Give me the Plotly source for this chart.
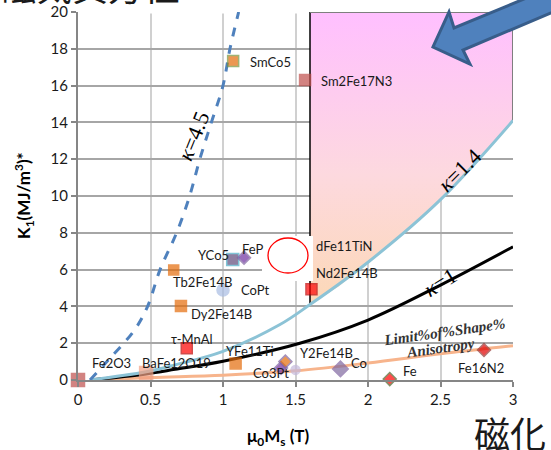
import plotly.graph_objects as go

# ---------------- data ----------------
mat_names = ["Fe2O3", "BaFe12O19", "τ-MnAl", "Dy2Fe14B", "Tb2Fe14B", "CoPt", "YCo5", "FePt",
             "Nd2Fe14B", "SmCo5", "Sm2Fe17N3", "YFe11Ti", "Co3Pt", "Y2Fe14B", "CoPt3", "Co", "Fe", "Fe16N2"]
mat_ms = [0.0, 0.47, 0.75, 0.71, 0.66, 1.0, 1.067, 1.145,
          1.61, 1.07, 1.566, 1.087, 1.40, 1.43, 1.50, 1.81, 2.15, 2.80]
mat_k1 = [0.0, 0.38, 1.72, 4.02, 5.98, 4.89, 6.55, 6.65,
          4.93, 17.34, 16.3, 0.90, 0.65, 1.0, 0.55, 0.60, 0.05, 1.63]
mat_symbol = ["square", "square", "square", "square", "square", "circle", "square", "diamond",
              "square", "square", "square", "square", "diamond", "diamond", "circle", "diamond", "diamond", "diamond"]
mat_color = ["#c0504d", "#f2a184", "#ff0000", "#e46c0a", "#e46c0a", "#a9bde3", "#5f497a", "#7030a0",
             "#ff0000", "#e46c0a", "#c0504d", "#e46c0a", "#7030a0", "#e46c0a", "#c5b9dc", "#7f6a9f", "#ff0000", "#e00000"]
mat_edge = ["#c0504d", "#f2a184", "#c00000", "#e46c0a", "#e46c0a", "#a9bde3", "#4bacc6", "#8064a2",
            "#c00000", "#77933c", "#c0504d", "#e46c0a", "#8064a2", "#8064a2", "#c5b9dc", "#8064a2", "#4f6228", "#953735"]
mat_size = [13, 13, 11, 11, 10, 12, 12, 10, 11, 11, 11, 11, 10, 10, 9, 12, 10, 10]

# visible label texts (x, y in data units where the text sits)
lbl_text = ["Fe2O3", "BaFe12O19", "τ-MnAl", "Dy2Fe14B", "Tb2Fe14B", "CoPt", "YCo5", "FeP",
            "dFe11TiN", "Nd2Fe14B", "SmCo5", "Sm2Fe17N3", "YFe11Ti", "Co3Pt", "Y2Fe14B", "Co", "Fe", "Fe16N2"]
lbl_x = [0.08, 0.43, 0.63, 0.765, 0.64, 1.11, 1.055, 1.115,
         1.625, 1.63, 1.17, 1.665, 1.01, 1.19, 1.52, 1.87, 2.23, 2.61]
lbl_y = [0.92, 0.92, 2.23, 3.6, 5.3, 4.9, 6.8, 7.12,
         7.3, 5.8, 17.28, 16.25, 1.58, 0.38, 1.47, 0.92, 0.49, 0.65]
lbl_anchor = ["left", "left", "left", "left", "left", "left", "right", "left",
              "left", "left", "left", "left", "left", "left", "left", "left", "left", "left"]

# hardness curves
k45_x = [0.083, 0.21, 0.39, 0.48, 0.566, 0.68, 0.77, 0.84, 0.92, 1.0, 1.048, 1.108]
k45_y = [0.0, 1.09, 2.72, 4.0, 6.0, 8.0, 10.0, 12.0, 14.0, 16.0, 18.0, 20.0]
k14_x = [0.083, 0.47, 0.67, 1.0, 1.39, 1.6, 2.0, 2.5, 3.0]
k14_y = [0.0, 0.45, 0.82, 1.56, 3.0, 4.1, 6.4, 9.8, 14.1]
k1_x = [0.083, 0.47, 0.67, 1.0, 1.53, 2.0, 2.5, 3.0]
k1_y = [0.0, 0.33, 0.58, 1.02, 2.0, 3.26, 5.16, 7.24]
shape_x = [0.083, 0.5, 1.0, 1.5, 2.0, 2.5, 3.0]
shape_y = [0.0, 0.13, 0.26, 0.5, 0.92, 1.42, 1.86]

# target region (above kappa=1.4, Ms > 1.6 T)
region_x = [1.6, 1.6, 1.8, 2.0, 2.25, 2.5, 2.75, 3.0, 3.0, 1.6]
region_y = [20.0, 4.1, 5.1, 6.4, 8.0, 9.8, 11.9, 14.1, 20.0, 20.0]

x_ticks = [0, 0.5, 1, 1.5, 2, 2.5, 3]
x_tick_labels = ["0", "0.5", "1", "1.5", "2", "2.5", "3"]
y_ticks = [0, 2, 4, 6, 8, 10, 12, 14, 16, 18, 20]

# ---------------- layout geometry ----------------
W, H = 551, 450
PL, PR, PT, PB = 78, 513, 12, 380        # plot box on screen
ML, MT = PL, PT
MR, MB = W - PR, H - PB
PW, PH = PR - PL, PB - PT


def px(x, y):
    """screen pixel position -> paper coordinates (decorations only)"""
    return (x - PL) / PW, (PB - y) / PH


fig = go.Figure()

# gradient region
fig.add_trace(go.Scatter(
    x=region_x, y=region_y, mode="lines", line=dict(width=0), fill="toself",
    fillgradient=dict(type="vertical", start=4.0, stop=20.0,
                      colorscale=[[0, "#fcd8b6"], [0.45, "#fdd9df"], [1, "#ffbfff"]]),
    hoverinfo="skip", showlegend=False))
# region borders
fig.add_trace(go.Scatter(x=[1.6, 1.6], y=[20, 4.1], mode="lines",
                         line=dict(color="black", width=1.5), showlegend=False, hoverinfo="skip"))
fig.add_trace(go.Scatter(x=[1.6, 3.0, 3.0], y=[20, 20, 14.1], mode="lines",
                         line=dict(color="#7f7f7f", width=2), showlegend=False, hoverinfo="skip"))

# curves
fig.add_trace(go.Scatter(x=shape_x, y=shape_y, mode="lines", line=dict(color="#f7b48c", width=3, shape="spline"),
                         showlegend=False, hoverinfo="skip"))
fig.add_trace(go.Scatter(x=k1_x, y=k1_y, mode="lines", line=dict(color="black", width=3, shape="spline"),
                         showlegend=False, hoverinfo="skip"))
fig.add_trace(go.Scatter(x=k14_x, y=k14_y, mode="lines", line=dict(color="#8cc3d6", width=3, shape="spline"),
                         showlegend=False, hoverinfo="skip"))
fig.add_trace(go.Scatter(x=k45_x, y=k45_y, mode="lines",
                         line=dict(color="#4f81bd", width=3, dash="dash", shape="spline"),
                         showlegend=False, hoverinfo="skip"))

# materials
fig.add_trace(go.Scatter(
    x=mat_ms, y=mat_k1, mode="markers", text=mat_names, cliponaxis=False,
    marker=dict(symbol=mat_symbol, color=mat_color, size=mat_size,
                line=dict(color=mat_edge, width=1.5)),
    showlegend=False))

annotations = []
lab_font = dict(family="Lato, Open Sans, sans-serif", size=13, color="#1a1a1a")
for t, x, y, a in zip(lbl_text, lbl_x, lbl_y, lbl_anchor):
    annotations.append(dict(x=x, y=y, xref="x", yref="y", text=t, showarrow=False,
                            xanchor=a, yanchor="middle", font=lab_font))

serif = "Liberation Serif, DejaVu Serif, serif"
for txt, (cx, cy), ang in [("<i>κ</i>=4.5", (193, 136), -68),
                           ("<i>κ</i>=1.4", (459, 170), -45),
                           ("<i>κ</i>=1", (440, 282), -32)]:
    ax, ay = px(cx, cy)
    annotations.append(dict(x=ax, y=ay, xref="paper", yref="paper", text=txt, showarrow=False,
                            xanchor="center", yanchor="middle",
                            textangle=ang, font=dict(family=serif, size=22, color="black")))
for txt, (cx, cy) in [("<b><i>Limit%of%Shape%</i></b>", (444, 332)), ("<b><i>Anisotropy</i></b>", (440, 348))]:
    ax, ay = px(cx, cy)
    annotations.append(dict(x=ax, y=ay, xref="paper", yref="paper", text=txt, showarrow=False,
                            xanchor="center", yanchor="middle",
                            textangle=-8, font=dict(family=serif, size=15, color="#333333")))

# axis titles
ax_, ay_ = px(278, 437)
annotations.append(dict(x=ax_, y=ay_, xref="paper", yref="paper", showarrow=False,
                        xanchor="center", yanchor="middle",
                        text="<b>μ<sub>0</sub>M<sub>s</sub> (T)</b>",
                        font=dict(family="Lato, sans-serif", size=17, color="black")))
ax_, ay_ = px(24, 196)
annotations.append(dict(x=ax_, y=ay_, xref="paper", yref="paper", showarrow=False, textangle=-90,
                        xanchor="center", yanchor="middle",
                        text="<b>K<sub>1</sub>(MJ/m<sup>3</sup>)*</b>",
                        font=dict(family="Lato, sans-serif", size=17, color="black")))

# Japanese overlay texts (partly cut by the page edges)
ax_, ay_ = px(510, 432)
annotations.append(dict(x=ax_, y=ay_, xref="paper", yref="paper", showarrow=False, text="磁化",
                        xanchor="center", yanchor="middle",
                        font=dict(family="Noto Sans CJK JP", size=36, color="#1a1a1a")))
ax_, ay_ = px(-2, -15)
annotations.append(dict(x=ax_, y=ay_, xref="paper", yref="paper", showarrow=False, text="磁気異方性",
                        xanchor="left", yanchor="middle",
                        font=dict(family="Noto Sans CJK JP", size=36, color="#1a1a1a")))

shapes = []
# hide top gridline left of the region
shapes.append(dict(type="line", xref="x", yref="y", x0=0, x1=1.6, y0=20, y1=20,
                   line=dict(color="white", width=3), layer="between"))
# white box with red circle
x0, y0 = px(262, 236)
x1, y1 = px(313, 281)
shapes.append(dict(type="rect", xref="paper", yref="paper", x0=x0, y0=y0, x1=x1, y1=y1,
                   fillcolor="white", line=dict(width=0), layer="above"))
x0, y0 = px(268, 238)
x1, y1 = px(308, 273)
shapes.append(dict(type="circle", xref="paper", yref="paper", x0=x0, y0=y0, x1=x1, y1=y1,
                   line=dict(color="#ff0000", width=1.3), layer="above"))
# big blue arrow
pts = [(433, 47), (449, 12), (454, 28), (565, -18), (565, 7), (463, 50), (470, 64)]
path = "M " + " L ".join(f"{px(a, b)[0]:.4f},{px(a, b)[1]:.4f}" for a, b in pts) + " Z"
shapes.append(dict(type="path", xref="paper", yref="paper", path=path,
                   fillcolor="#4f81bd", line=dict(color="#385d8a", width=3), layer="above"))

fig.update_layout(
    width=W, height=H, margin=dict(l=ML, r=MR, t=MT, b=MB, autoexpand=False),
    paper_bgcolor="white", plot_bgcolor="white",
    annotations=annotations, shapes=shapes, showlegend=False,
    font=dict(family="Lato, sans-serif", color="#1a1a1a"),
)
fig.update_xaxes(range=[0, 3], tickvals=x_ticks, ticktext=x_tick_labels,
                 showgrid=True, gridcolor="#d0d0d0", gridwidth=1.5,
                 showline=True, linecolor="#868686", linewidth=2,
                 ticks="outside", ticklen=5, tickcolor="#868686", tickwidth=1.5,
                 zeroline=False, tickfont=dict(size=15, family="Lato, sans-serif", color="#1a1a1a"))
fig.update_yaxes(range=[0, 20], tickvals=y_ticks,
                 showgrid=True, gridcolor="#a6a6a6", gridwidth=1.5,
                 showline=True, linecolor="#868686", linewidth=2,
                 ticks="outside", ticklen=5, tickcolor="#868686", tickwidth=1.5,
                 zeroline=False, tickfont=dict(size=15, family="Lato, sans-serif", color="#1a1a1a"))

# remove the default 8px page margin so the figure fills the window exactly
fig.write_html("out.html", config={"displayModeBar": False},
               post_script="document.body.style.margin='0';")
